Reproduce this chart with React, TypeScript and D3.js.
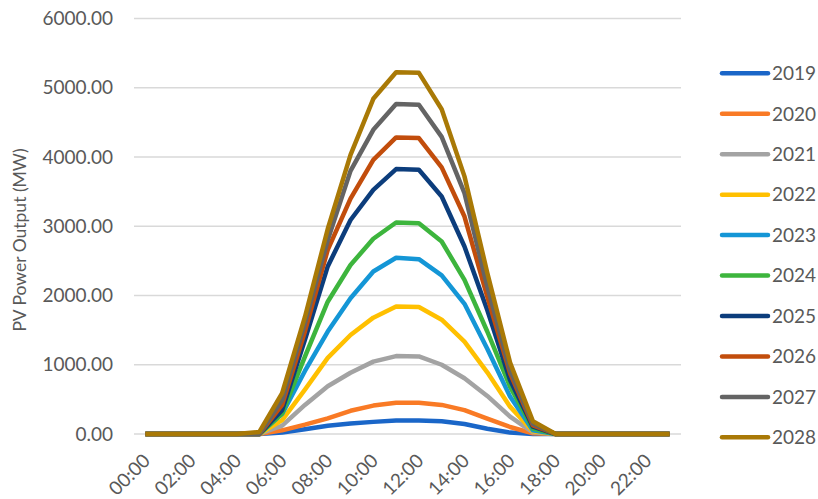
import React from "react";
import * as d3 from "d3";

// Hourly categories 00:00 … 23:00
const hours: string[] = [
  "00:00", "01:00", "02:00", "03:00", "04:00", "05:00", "06:00", "07:00",
  "08:00", "09:00", "10:00", "11:00", "12:00", "13:00", "14:00", "15:00",
  "16:00", "17:00", "18:00", "19:00", "20:00", "21:00", "22:00", "23:00",
];

const years: string[] = ["2019", "2020", "2021", "2022", "2023", "2024", "2025", "2026", "2027", "2028"];

// PV output (MW) per hour for each year
const pv2019: number[] = [0, 0, 0, 0, 0, 0, 20, 70, 120, 150, 175, 195, 195, 185, 145, 75, 20, 0, 0, 0, 0, 0, 0, 0];
const pv2020: number[] = [0, 0, 0, 0, 0, 0, 53, 135, 225, 335, 410, 450, 450, 420, 345, 222, 101, 10, 0, 0, 0, 0, 0, 0];
const pv2021: number[] = [0, 0, 0, 0, 0, 0, 120, 420, 690, 885, 1045, 1125, 1120, 1000, 805, 550, 250, 25, 0, 0, 0, 0, 0, 0];
const pv2022: number[] = [0, 0, 0, 0, 0, 0, 200, 640, 1100, 1430, 1680, 1840, 1835, 1650, 1335, 890, 395, 40, 0, 0, 0, 0, 0, 0];
const pv2023: number[] = [0, 0, 0, 0, 0, 0, 290, 910, 1480, 1960, 2346, 2545, 2525, 2290, 1880, 1230, 540, 55, 0, 0, 0, 0, 0, 0];
const pv2024: number[] = [0, 0, 0, 0, 0, 0, 300, 1117, 1910, 2440, 2820, 3054, 3045, 2780, 2225, 1480, 684, 80, 0, 0, 0, 0, 0, 0];
const pv2025: number[] = [0, 0, 0, 0, 0, 0, 345, 1360, 2420, 3090, 3526, 3825, 3815, 3429, 2707, 1790, 780, 105, 0, 0, 0, 0, 0, 0];
const pv2026: number[] = [0, 0, 0, 0, 0, 0, 420, 1480, 2660, 3400, 3960, 4282, 4273, 3850, 3140, 1984, 877, 125, 0, 0, 0, 0, 0, 0];
const pv2027: number[] = [0, 0, 0, 0, 0, 0, 490, 1600, 2800, 3800, 4393, 4764, 4754, 4290, 3478, 2130, 925, 150, 0, 0, 0, 0, 0, 0];
const pv2028: number[] = [0, 0, 0, 0, 0, 30, 590, 1690, 2960, 4030, 4840, 5225, 5215, 4690, 3720, 2330, 1030, 185, 0, 0, 0, 0, 0, 0];

const seriesValues: number[][] = [pv2019, pv2020, pv2021, pv2022, pv2023, pv2024, pv2025, pv2026, pv2027, pv2028];

const colors: string[] = [
  "#1a66c8", "#f97a25", "#a3a3a3", "#ffc000", "#1496d6",
  "#3db53d", "#0c3d7c", "#c24d0c", "#646464", "#a97906",
];

const yTicks: number[] = [0, 1000, 2000, 3000, 4000, 5000, 6000];
const xTickLabels: string[] = hours.filter((_, i) => i % 2 === 0);

const W = 818;
const H = 499;
const plot = { left: 134, right: 681, top: 18.5, bottom: 434 };
const FONT = "Lato, 'Open Sans', sans-serif";
const FS = 19;
const TEXT = "#595959";

export default function App() {
  const x = d3.scaleBand<string>().domain(hours).range([plot.left, plot.right]).padding(0);
  const y = d3.scaleLinear().domain([0, 6000]).range([plot.bottom, plot.top]);
  const cx = (h: string) => (x(h) as number) + x.bandwidth() / 2;

  const line = d3
    .line<number>()
    .x((_, i) => cx(hours[i]))
    .y((v) => y(v));

  return (
    <svg width={W} height={H} style={{ position: "absolute", left: 0, top: 0, background: "#fff" }}>
      {/* horizontal gridlines */}
      {yTicks.map((t) => (
        <line key={`g${t}`} x1={plot.left} x2={plot.right} y1={y(t)} y2={y(t)} stroke="#d9d9d9" strokeWidth={1.5} />
      ))}

      {/* y-axis tick labels */}
      {yTicks.map((t) => (
        <text
          key={`yl${t}`}
          x={113}
          y={y(t)}
          dy="0.35em"
          textAnchor="end"
          fontFamily={FONT}
          fontSize={FS}
          fill={TEXT}
        >
          {t.toFixed(2)}
        </text>
      ))}

      {/* y-axis title */}
      <text
        transform={`translate(26, 240) rotate(-90)`}
        textAnchor="middle"
        fontFamily={FONT}
        fontSize={17.5}
        fill={TEXT}
      >
        PV Power Output (MW)
      </text>

      {/* x-axis tick labels, rotated */}
      {xTickLabels.map((h) => (
        <text
          key={`xl${h}`}
          transform={`translate(${cx(h) + 6}, ${plot.bottom + 28}) rotate(-45)`}
          textAnchor="end"
          fontFamily={FONT}
          fontSize={FS}
          fill={TEXT}
        >
          {h}
        </text>
      ))}

      {/* series lines */}
      {seriesValues.map((vals, i) => (
        <path
          key={`s${years[i]}`}
          d={line(vals) as string}
          fill="none"
          stroke={colors[i]}
          strokeWidth={4.5}
          strokeLinejoin="round"
        />
      ))}

      {/* legend */}
      {years.map((yr, i) => {
        const ly = 73.3 + i * 40.45;
        return (
          <g key={`lg${yr}`}>
            <line x1={722} x2={768} y1={ly} y2={ly} stroke={colors[i]} strokeWidth={4.5} strokeLinecap="round" />
            <text x={772} y={ly} dy="0.36em" fontFamily={FONT} fontSize={FS} fill={TEXT}>
              {yr}
            </text>
          </g>
        );
      })}
    </svg>
  );
}
